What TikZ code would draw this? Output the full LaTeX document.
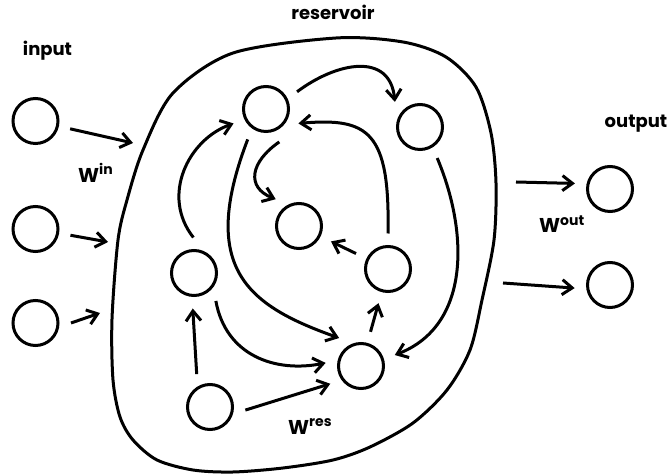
\documentclass[tikz,border=0pt]{standalone}
\usepackage{fontspec}
\setmainfont{Poppins}
\usetikzlibrary{arrows.meta}
\begin{document}
\begin{tikzpicture}[x=1pt,y=1pt,
  neuron/.style={circle,draw,line width=3pt,minimum size=45pt,inner sep=0pt,outer sep=13pt},
  conn/.style={line width=3pt,-{Straight Barb[length=10pt,width=15pt]}},
  title/.style={font=\bfseries\fontsize{18}{21}\selectfont,anchor=base,inner sep=0pt},
  wlabel/.style={anchor=base west,inner sep=0pt,font=\bfseries\fontsize{20}{24}\selectfont}]
\useasboundingbox (0,0) rectangle (672,476);
% reservoir boundary
\draw[line width=3pt] plot[smooth cycle] coordinates {
 (336,438) (403,434) (446,419) (476,389) (491,343) (496,293) (494,236)
 (482,176) (470,126) (447,86) (413,53) (370,29) (333,16) (283,8)
 (233,4) (193,6) (157,16) (133,36) (120,59) (113,96) (112,157)
 (118,236) (127,276) (143,326) (173,383) (233,423)};
% titles
\node[title] (tin) at (47.5,420) {input};
\node[title] (tres) at (333,456) {reservoir};
\node[title] (tout) at (636,348) {output};
% neurons
\node[neuron] (I1) at (35.5,355) {};
\node[neuron] (I2) at (35.5,247) {};
\node[neuron] (I3) at (35.5,153) {};
\node[neuron] (A) at (266,367) {};
\node[neuron] (B) at (420,349) {};
\node[neuron] (C) at (299,250) {};
\node[neuron] (D) at (194,203) {};
\node[neuron] (E) at (388,207) {};
\node[neuron] (F) at (361,110) {};
\node[neuron] (G) at (210,69) {};
\node[neuron] (O1) at (610,287) {};
\node[neuron] (O2) at (610,191) {};
% free ends
\coordinate (c1) at (133,333);
\coordinate (c2) at (108,234);
\coordinate (c3) at (100,163);
\coordinate (c4) at (516,294);
\coordinate (c5) at (503,193);
% weight labels
\node[wlabel] (win) at (78,293) {W\raisebox{8pt}{\fontsize{14}{14}\selectfont in}};
\node[wlabel] (wout) at (539,243) {W\raisebox{7pt}{\fontsize{14}{14}\selectfont out}};
\node[wlabel] (wres) at (288,41) {W\raisebox{8pt}{\fontsize{14}{14}\selectfont res}};
% input / output connectors
\draw[conn] (I1) -- (c1);
\draw[conn] (I2) -- (c2);
\draw[conn] (I3.0) -- (c3);
\draw[conn] (c4) -- (O1.171);
\draw[conn] (c5) -- (O2.185);
% reservoir connectors
\draw[conn] (A.29) .. controls +(40,30) and +(-5,50) .. (B.135);
\draw[conn] (D.91) .. controls +(-33,42) and +(-45,-16) .. (A.204);
\draw[conn] (A.-68) .. controls +(-29,-20) and +(-30,12) .. (C.131);
\draw[conn] (E.90) .. controls +(2,102) and +(70,6) .. (A.-24);
\draw[conn] (A.-121) .. controls +(-50,-130) and +(-90,32) .. (F.128);
\draw[conn] (B.-61) .. controls +(32,-76) and +(75,29) .. (F.18);
\draw[conn] (E) -- (C);
\draw[conn] (F) -- (E);
\draw[conn] (D.-52) .. controls +(10,-55) and +(-50,-10) .. (F.175);
\draw[conn] (G.112) -- (D.-92);
\draw[conn] (G.-5) -- (F.210);
\end{tikzpicture}
\end{document}
